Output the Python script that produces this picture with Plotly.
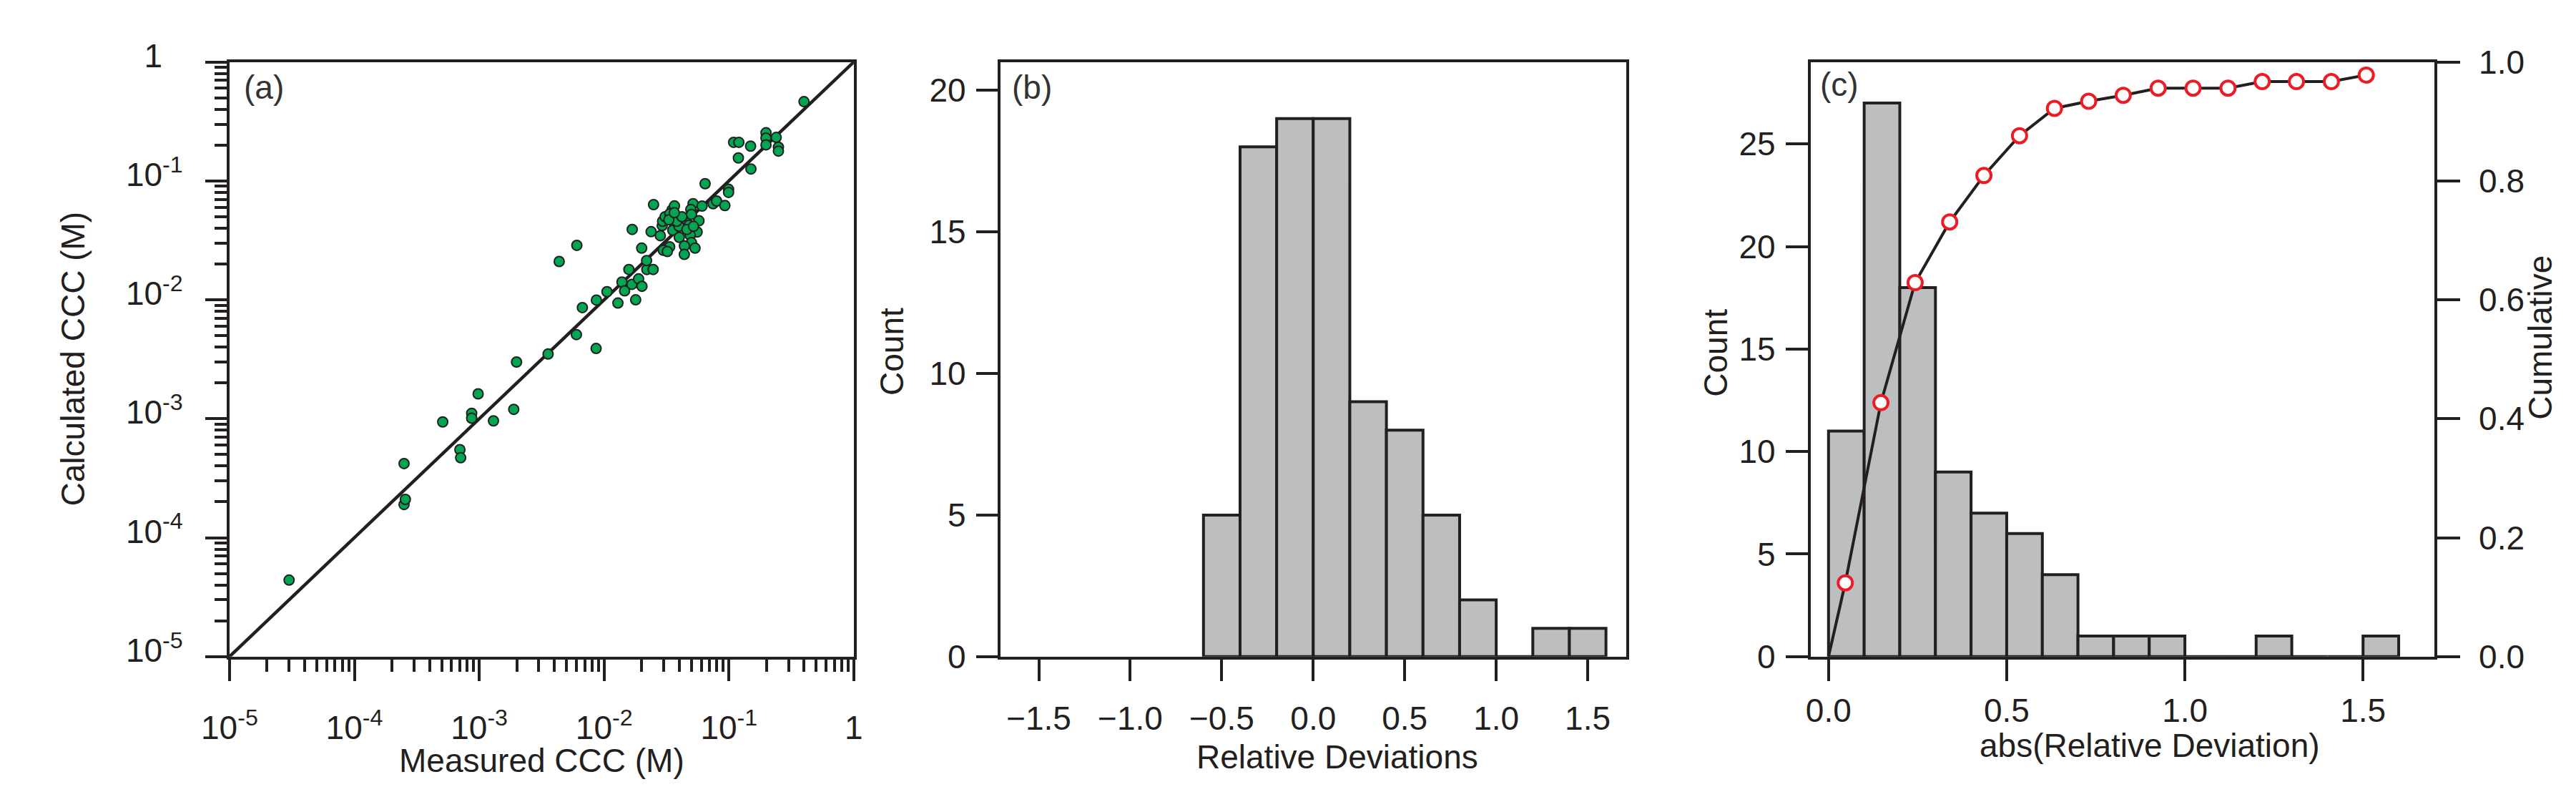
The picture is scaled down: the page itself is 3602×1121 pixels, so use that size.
import plotly.graph_objects as go

W, H = 3602, 1121
INK = "#231f20"
FONT = "Liberation Sans, Arial, sans-serif"
FS = 46

# ---- (a) measured vs calculated CCC (M)
measured_ccc = [
    3.0e-5, 2.5e-4, 2.5e-4, 2.56e-4, 5.1e-4, 7.0e-4, 7.1e-4, 8.7e-4, 8.7e-4, 9.8e-4,
    1.30e-3, 1.89e-3, 1.99e-3, 3.56e-3, 4.37e-3, 6.0e-3, 6.05e-3, 6.7e-3, 8.63e-3, 8.68e-3,
    1.055e-2, 1.29e-2, 1.39e-2, 1.46e-2, 1.67e-2, 1.79e-2, 1.89e-2, 2.01e-2, 1.58e-2, 2.2e-2,
    2.47e-2, 2.19e-2, 2.0e-2, 1.68e-2, 2.49e-2, 2.38e-2, 2.82e-2, 2.92e-2, 2.94e-2, 3.08e-2,
    3.5e-2, 3.66e-2, 3.55e-2, 3.9e-2, 3.98e-2, 3.82e-2, 4.48e-2, 5.16e-2, 4.95e-2, 5.01e-2,
    6.09e-2, 5.75e-2, 4.8e-2, 5.56e-2, 4.89e-2, 4.0e-2, 5.01e-2, 4.4e-2, 5.35e-2, 4.39e-2,
    3.35e-2, 2.98e-2, 3.21e-2, 7.46e-2, 7.96e-2, 9.27e-2, 6.44e-2, 9.93e-2, 9.93e-2, 0.109,
    0.120, 0.149, 0.119, 0.150, 0.198, 0.198, 0.198, 0.239, 0.249, 0.249,
    0.399, 3.36e-2, 4.2e-2, 4.6e-2, 3.3e-2, 3.65e-2, 5.2e-2,
]
calculated_ccc = [
    4.4e-5, 4.2e-4, 1.9e-4, 2.1e-4, 9.4e-4, 5.5e-4, 4.7e-4, 1.11e-3, 1.01e-3, 1.62e-3,
    9.6e-4, 1.2e-3, 3.0e-3, 3.5e-3, 2.1e-2, 5.1e-3, 2.87e-2, 8.6e-3, 3.9e-3, 9.95e-3,
    1.17e-2, 9.4e-3, 1.41e-2, 1.19e-2, 1.35e-2, 1.0e-2, 1.5e-2, 1.3e-2, 1.8e-2, 1.8e-2,
    1.8e-2, 2.14e-2, 2.72e-2, 3.91e-2, 6.32e-2, 3.74e-2, 3.46e-2, 4.21e-2, 4.58e-2, 5.0e-2,
    5.7e-2, 6.16e-2, 3.85e-2, 4.39e-2, 4.15e-2, 4.58e-2, 4.79e-2, 6.43e-2, 5.75e-2, 5.22e-2,
    6.14e-2, 4.62e-2, 4.24e-2, 3.72e-2, 3.49e-2, 3.35e-2, 3.03e-2, 2.84e-2, 2.72e-2, 2.41e-2,
    2.79e-2, 2.61e-2, 2.55e-2, 6.43e-2, 6.77e-2, 6.21e-2, 9.47e-2, 8.5e-2, 8.0e-2, 0.211,
    0.211, 0.196, 0.156, 0.126, 0.254, 0.229, 0.201, 0.232, 0.192, 0.178,
    0.464, 5.3e-2, 5.0e-2, 3.9e-2, 4.7e-2, 5.4e-2, 4.15e-2,
]
parity_line = [1e-5, 1.0]
log_tick_vals = [1e-5, 1e-4, 1e-3, 1e-2, 1e-1, 1]
log_tick_text_x = ["10<sup>-5</sup>", "10<sup>-4</sup>", "10<sup>-3</sup>",
                   "10<sup>-2</sup>", "10<sup>-1</sup>", "1"]
# the "1" on the y axis lines up with the "10" of the other labels
log_tick_text_y = log_tick_text_x[:-1] + ["1<sup><span style='color:rgba(0,0,0,0)'>-1</span></sup>"]

# ---- (b) histogram of relative deviations
dev_bin_left = [-0.6, -0.4, -0.2, 0.0, 0.2, 0.4, 0.6, 0.8, 1.0, 1.2, 1.4]
dev_counts = [5, 18, 19, 19, 9, 8, 5, 2, 0, 1, 1]

# ---- (c) histogram of |relative deviation| and cumulative fraction
abs_bin_left = [0.0, 0.1, 0.2, 0.3, 0.4, 0.5, 0.6, 0.7, 0.8, 0.9, 1.0, 1.1, 1.2, 1.3, 1.4, 1.5]
abs_counts = [11, 27, 18, 9, 7, 6, 4, 1, 1, 1, 0, 0, 1, 0, 0, 1]
cum_x = [0.047, 0.147, 0.243, 0.340, 0.436, 0.536, 0.634, 0.730,
         0.827, 0.925, 1.023, 1.121, 1.217, 1.313, 1.411, 1.509]
cum_y = [0.124, 0.427, 0.629, 0.731, 0.809, 0.876, 0.922, 0.934,
         0.944, 0.956, 0.956, 0.956, 0.967, 0.967, 0.967, 0.978]

fig = go.Figure()

fig.add_trace(go.Scatter(x=parity_line, y=parity_line, mode="lines",
                         line=dict(color=INK, width=4.5), xaxis="x", yaxis="y"))
fig.add_trace(go.Scatter(x=measured_ccc, y=calculated_ccc, mode="markers",
                         marker=dict(color="#00a651", size=14, line=dict(color=INK, width=2)),
                         xaxis="x", yaxis="y"))

fig.add_trace(go.Bar(x=dev_bin_left, y=dev_counts, width=0.2, offset=0,
                     marker=dict(color="#bcbec0", line=dict(color=INK, width=4)),
                     xaxis="x2", yaxis="y2"))

fig.add_trace(go.Bar(x=abs_bin_left, y=abs_counts, width=0.1, offset=0,
                     marker=dict(color="#bcbec0", line=dict(color=INK, width=4)),
                     xaxis="x3", yaxis="y3"))
fig.add_trace(go.Scatter(x=[0.0] + cum_x, y=[0.0] + cum_y, mode="lines",
                         line=dict(color=INK, width=4), xaxis="x3", yaxis="y4"))
fig.add_trace(go.Scatter(x=cum_x, y=cum_y, mode="markers",
                         marker=dict(color="white", size=20, line=dict(color="#ed1c24", width=4)),
                         xaxis="x3", yaxis="y4"))

ydom = [1 - 924 / H, 1 - 40 / H]
axis_common = dict(showline=True, linecolor=INK, linewidth=4, mirror=True,
                   ticks="outside", ticklen=30, tickwidth=4, tickcolor=INK,
                   showgrid=False, zeroline=False,
                   tickfont=dict(family=FONT, size=FS, color=INK))

minor_vals = [k * 10.0 ** e for e in range(-5, 0) for k in range(2, 10)]
minor = dict(tickvals=minor_vals, ticks="outside", ticklen=17, tickwidth=3.5, tickcolor=INK)

fig.update_layout(
    width=W, height=H, margin=dict(l=0, r=0, t=0, b=0),
    paper_bgcolor="white", plot_bgcolor="white", showlegend=False,
    xaxis=dict(axis_common, type="log", range=[-5, 0], domain=[277 / W, 1163 / W],
               anchor="y", tickmode="array", tickvals=log_tick_vals, ticktext=log_tick_text_x,
               minor=minor, ticklabelstandoff=26),
    yaxis=dict(axis_common, type="log", range=[-5, 0], domain=ydom, anchor="x",
               tickmode="array", tickvals=log_tick_vals, ticktext=log_tick_text_y,
               minor=minor, ticklabelstandoff=22, ticklabelshift=-9),
    xaxis2=dict(axis_common, range=[-1.71, 1.71], domain=[1371 / W, 2259 / W], anchor="y2",
                tickvals=[-1.5, -1.0, -0.5, 0.0, 0.5, 1.0, 1.5], tickformat=".1f",
                ticklabelstandoff=13),
    yaxis2=dict(axis_common, range=[0, 21], domain=ydom, anchor="x2",
                tickvals=[0, 5, 10, 15, 20], ticklabelstandoff=5),
    xaxis3=dict(axis_common, range=[-0.05, 1.70], domain=[2521 / W, 3406 / W], anchor="y3",
                tickvals=[0.0, 0.5, 1.0, 1.5], tickformat=".1f", ticklabelstandoff=2),
    yaxis3=dict(axis_common, range=[0, 29], domain=ydom, anchor="x3",
                tickvals=[0, 5, 10, 15, 20, 25], ticklabelstandoff=5, ticklen=31),
    yaxis4=dict(axis_common, range=[0, 1], overlaying="y3", side="right", anchor="x3",
                tickvals=[0.0, 0.2, 0.4, 0.6, 0.8, 1.0], tickformat=".1f", mirror=False,
                ticklen=32, ticklabelstandoff=17),
)

title_font = dict(family=FONT, size=FS, color=INK)
titles = [
    ("Measured CCC (M)", 720, 1078, 0),
    ("Calculated CCC (M)", 55, 481, -90),
    ("Relative Deviations", 1849, 1073, 0),
    ("Count", 1217, 471, -90),
    ("abs(Relative Deviation)", 3002, 1056, 0),
    ("Count", 2386, 472, -90),
    ("Cumulative", 3556, 450, -90),
]
for text, px, py, ang in titles:
    fig.add_annotation(text=text, x=px / W, y=1 - py / H, xref="paper", yref="paper",
                       xanchor="center", yanchor="middle", textangle=ang,
                       showarrow=False, font=title_font)

for text, px, py in [("(a)", 295, 78), ("(b)", 1385, 78), ("(c)", 2532, 73)]:
    fig.add_annotation(text=text, x=px / W, y=1 - py / H, xref="paper", yref="paper",
                       xanchor="left", yanchor="middle", showarrow=False,
                       font=dict(family=FONT, size=FS, color="#333333"))

fig.write_html("out.html")
